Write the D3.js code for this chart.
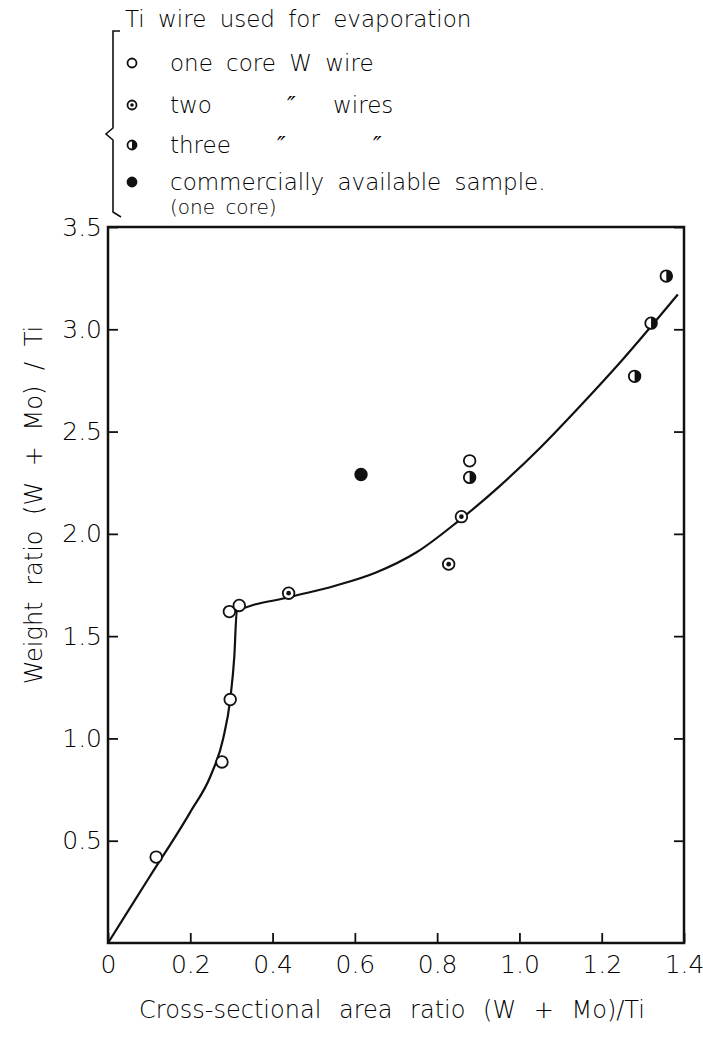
<!DOCTYPE html>
<html>
<head>
<meta charset="utf-8">
<script src="https://cdn.jsdelivr.net/npm/d3@7"></script>
<style>
  body { margin: 0; background: #fff; }
  text { font-family: "DejaVu Sans", sans-serif; fill: #000; }
</style>
</head>
<body>
<div id="container"></div>
<script>
var width = 703,
    height = 1038;

// data
var oneCore = [[0.117, 0.42], [0.277, 0.885], [0.297, 1.19], [0.295, 1.62], [0.319, 1.65], [0.879, 2.357]];
var twoWires = [[0.439, 1.71], [0.828, 1.852], [0.859, 2.084]];
var threeWires = [[0.879, 2.276], [1.28, 2.77], [1.32, 3.03], [1.357, 3.26]];
var commercial = [[0.615, 2.29]];
var fitCurve = [[0, 0], [0.1, 0.32], [0.2, 0.64], [0.25, 0.82], [0.28, 1.0], [0.297, 1.19],
  [0.307, 1.4], [0.313, 1.62], [0.44, 1.69], [0.55, 1.745], [0.65, 1.81], [0.75, 1.91],
  [0.85, 2.06], [0.95, 2.23], [1.05, 2.42], [1.15, 2.63], [1.25, 2.85], [1.385, 3.17]];
var xTicks = [0, 0.2, 0.4, 0.6, 0.8, 1.0, 1.2, 1.4];
var yTicks = [0.5, 1.0, 1.5, 2.0, 2.5, 3.0, 3.5];

var svg = d3.select("#container").append("svg")
  .attr("width", width)
  .attr("height", height);

var x = d3.scaleLinear().domain([0, 1.4]).range([108, 684]);
var y = d3.scaleLinear().domain([0, 3.5]).range([943, 227]);

// axes, ticks pointing inward
svg.append("g")
  .attr("transform", "translate(0," + y(0) + ")")
  .call(d3.axisBottom(x).tickValues(xTicks).tickSizeInner(-10).tickSizeOuter(0).tickPadding(12)
    .tickFormat(function(d) { return d === 0 ? "0" : d3.format(".1f")(d); }));

svg.append("g")
  .attr("transform", "translate(" + x(0) + ",0)")
  .call(d3.axisLeft(y).tickValues(yTicks).tickSizeInner(-10).tickSizeOuter(0).tickPadding(6)
    .tickFormat(d3.format(".1f")));

svg.append("g")
  .attr("transform", "translate(" + x(1.4) + ",0)")
  .call(d3.axisRight(y).tickValues(yTicks).tickSizeInner(-10).tickSizeOuter(0).tickFormat(""));

svg.selectAll(".domain").remove();
svg.selectAll(".tick line").attr("stroke", "#111").attr("stroke-width", 1.8);
svg.selectAll(".tick text").style("font-size", "25px").style("font-weight", 200);

// frame
svg.append("rect")
  .attr("x", x(0)).attr("y", y(3.5))
  .attr("width", x(1.4) - x(0)).attr("height", y(0) - y(3.5))
  .attr("fill", "none").attr("stroke", "#111").attr("stroke-width", 2.5);

// fitted line
var line = d3.line()
  .x(function(d) { return x(d[0]); })
  .y(function(d) { return y(d[1]); })
  .curve(d3.curveMonotoneX);

svg.append("path")
  .datum(fitCurve)
  .attr("d", line)
  .attr("fill", "none")
  .attr("stroke", "#111")
  .attr("stroke-width", 2.2);

// marker drawing
function drawMarker(g, kind, r) {
  if (kind === "open") {
    g.append("circle").attr("r", r).attr("fill", "#fff").attr("stroke", "#111").attr("stroke-width", 1.8);
  } else if (kind === "dot") {
    g.append("circle").attr("r", r).attr("fill", "#fff").attr("stroke", "#111").attr("stroke-width", 1.8);
    g.append("circle").attr("r", r * 0.4).attr("fill", "#111");
  } else if (kind === "half") {
    g.append("circle").attr("r", r).attr("fill", "#fff").attr("stroke", "#111").attr("stroke-width", 1.8);
    g.append("path").attr("d", d3.arc()({innerRadius: 0, outerRadius: r, startAngle: 0, endAngle: Math.PI})).attr("fill", "#111");
  } else {
    g.append("circle").attr("r", r).attr("fill", "#111").attr("stroke", "#111").attr("stroke-width", 1.8);
  }
}

function plotSeries(data, kind) {
  svg.append("g").selectAll("g")
    .data(data)
    .enter().append("g")
    .attr("transform", function(d) { return "translate(" + x(d[0]) + "," + y(d[1]) + ")"; })
    .each(function() { drawMarker(d3.select(this), kind, 5.8); });
}

plotSeries(oneCore, "open");
plotSeries(twoWires, "dot");
plotSeries(threeWires, "half");
plotSeries(commercial, "filled");

// axis titles
svg.append("text")
  .attr("x", 392).attr("y", 1018)
  .attr("text-anchor", "middle")
  .style("font-size", "24px").style("font-weight", 200)
  .style("word-spacing", "10px")
  .text("Cross-sectional area ratio  (W + Mo)/Ti");

svg.append("text")
  .attr("transform", "translate(42,505) rotate(-90)")
  .attr("text-anchor", "middle")
  .style("font-size", "24px").style("font-weight", 200)
  .style("word-spacing", "8px")
  .text("Weight ratio  (W + Mo) / Ti");

// legend
var legend = svg.append("g");
legend.append("text").attr("x", 125).attr("y", 27)
  .style("font-size", "23px").style("font-weight", 200).style("word-spacing", "6px")
  .text("Ti wire used for evaporation");

var legendRows = [
  {kind: "open", y: 63, parts: [["one core W wire", 170]]},
  {kind: "dot", y: 105, parts: [["two", 170], ["\u2033", 287], ["wires", 333]]},
  {kind: "half", y: 145, parts: [["three", 170], ["\u2033", 277], ["\u2033", 373]]},
  {kind: "filled", y: 182, parts: [["commercially available sample.", 170]]}
];

legendRows.forEach(function(row) {
  var g = legend.append("g").attr("transform", "translate(132," + row.y + ")");
  drawMarker(g, row.kind, 4.5);
  row.parts.forEach(function(p) {
    legend.append("text").attr("x", p[1]).attr("y", row.y + 8)
      .style("font-size", "23px").style("font-weight", 200).style("word-spacing", "6px")
      .style("font-style", p[0] === "\u2033" ? "italic" : "normal")
      .text(p[0]);
  });
});
legend.append("text").attr("x", 170).attr("y", 214)
  .style("font-size", "20px").style("font-weight", 200).style("word-spacing", "4px")
  .text("(one core)");

// brace
legend.append("path")
  .attr("d", "M120,31 L113,31 L113,128 L106,134 L113,140 L113,212 L121,217")
  .attr("fill", "none").attr("stroke", "#111").attr("stroke-width", 1.6);
</script>
</body>
</html>
